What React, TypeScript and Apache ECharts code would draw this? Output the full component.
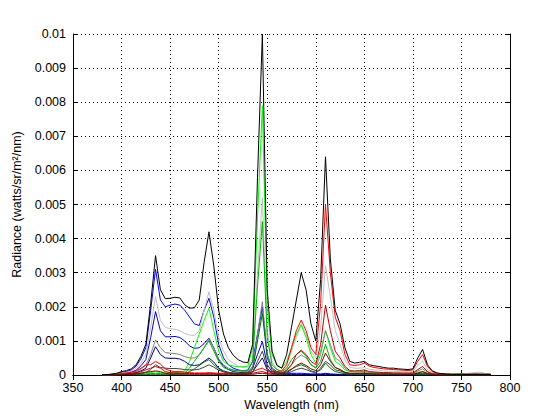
import React, { useEffect, useRef } from "react";
import * as echarts from "echarts";

// Wavelength samples (nm)
const wavelengths = [
  380, 385, 390, 395, 400, 405, 410, 415, 420, 425,
  430, 435, 440, 445, 450, 455, 460, 465, 470, 475,
  480, 485, 490, 495, 500, 505, 510, 515, 520, 525,
  530, 535, 540, 545, 550, 555, 560, 565, 570, 575,
  580, 585, 590, 595, 600, 605, 610, 615, 620, 625,
  630, 635, 640, 645, 650, 655, 660, 665, 670, 675,
  680, 685, 690, 695, 700, 705, 710, 715, 720, 725,
  730, 735, 740, 745, 750, 755, 760, 765, 770, 775,
  780,
];

const white100 = [
  0, 0.00001, 0.00003, 0.00005, 0.0001, 0.00013, 0.00018, 0.0003, 0.00055, 0.0009,
  0.0021, 0.0035, 0.0025, 0.00224, 0.00225, 0.00228, 0.00226, 0.00206, 0.00196, 0.00197,
  0.0022, 0.0033, 0.0042, 0.0032, 0.0019, 0.0012, 0.0008, 0.00058, 0.00045, 0.00038,
  0.00036, 0.0009, 0.0058, 0.01, 0.0025, 0.0007, 0.00028, 0.0002, 0.0006, 0.0014,
  0.0022, 0.003, 0.0025, 0.0015, 0.001, 0.0028, 0.0064, 0.0034, 0.0019, 0.0015,
  0.0008, 0.0004, 0.00035, 0.00037, 0.0004, 0.0003, 0.00027, 0.00025, 0.00022, 0.0002,
  0.0002, 0.00018, 0.00017, 0.00016, 0.00018, 0.0005, 0.00075, 0.0003, 0.00012, 0.00006,
  0.00004, 0.00003, 0.00002, 0.00002, 0.00002, 0.00002, 0.00002, 0.00002, 0.00002, 0.00002,
  0.00002,
];

const whiteHigh = [
  0, 0, 0.00002, 0.00003, 0.00006, 0.00008, 0.00011, 0.0002, 0.00035, 0.0006,
  0.0014, 0.0023, 0.0016, 0.0014, 0.00136, 0.00134, 0.0013, 0.00122, 0.00117, 0.00116,
  0.0013, 0.0019, 0.00244, 0.0019, 0.0011, 0.0007, 0.00045, 0.00035, 0.00026, 0.00022,
  0.00021, 0.0005, 0.003, 0.0052, 0.0013, 0.0004, 0.00016, 0.00012, 0.0003, 0.0007,
  0.0011, 0.0015, 0.0012, 0.0007, 0.0005, 0.0014, 0.0032, 0.0023, 0.0013, 0.0009,
  0.00045, 0.00022, 0.0002, 0.0002, 0.00022, 0.00017, 0.00015, 0.00014, 0.00012, 0.00011,
  0.00011, 0.0001, 0.0001, 0.00009, 0.0001, 0.00028, 0.0004, 0.00016, 0.00007, 0.00004,
  0.00003, 0.00003, 0.00003, 0.00003, 0.00003, 0.00004, 0.00006, 0.00008, 0.00008, 0.00004,
  0.00003,
];

const whiteMid = [
  0, 0, 0.00001, 0.00002, 0.00003, 0.00004, 0.00005, 0.0001, 0.00017, 0.00028,
  0.0006, 0.00103, 0.0008, 0.00066, 0.00064, 0.00063, 0.0006, 0.00054, 0.0005, 0.0005,
  0.00058, 0.0008, 0.00105, 0.0008, 0.00048, 0.0003, 0.0002, 0.00015, 0.00012, 0.0001,
  0.0001, 0.00025, 0.0012, 0.00215, 0.0006, 0.0002, 0.00008, 0.00006, 0.00015, 0.0003,
  0.00048, 0.00059, 0.0005, 0.0003, 0.00022, 0.0006, 0.0013, 0.0009, 0.0005, 0.0004,
  0.0002, 0.0001, 0.00009, 0.00009, 0.0001, 0.00008, 0.00007, 0.00006, 0.00006, 0.00005,
  0.00005, 0.00005, 0.00004, 0.00004, 0.00005, 0.00012, 0.00018, 0.00008, 0.00003, 0.00002,
  0.00002, 0.00002, 0.00002, 0.00002, 0.00002, 0.00002, 0.00003, 0.00004, 0.00003, 0.00002,
  0.00002,
];

const whiteLow = [
  0, 0, 0, 0.00001, 0.00001, 0.00002, 0.00002, 0.00003, 0.00005, 0.00008,
  0.00016, 0.0003, 0.00022, 0.0002, 0.00019, 0.00019, 0.00018, 0.00016, 0.00015, 0.00015,
  0.00017, 0.00023, 0.0003, 0.00023, 0.00014, 0.00009, 0.00006, 0.00004, 0.00003, 0.00003,
  0.00003, 0.00008, 0.0004, 0.0007, 0.0002, 0.00006, 0.00003, 0.00002, 0.00005, 0.0001,
  0.00016, 0.0002, 0.00016, 0.0001, 0.00007, 0.0002, 0.0004, 0.0003, 0.00015, 0.00012,
  0.00006, 0.00003, 0.00003, 0.00003, 0.00003, 0.00002, 0.00002, 0.00002, 0.00002, 0.00002,
  0.00002, 0.00002, 0.00002, 0.00002, 0.00002, 0.00004, 0.00006, 0.00003, 0.00001, 0.00001,
  0.00001, 0.00001, 0.00001, 0.00001, 0.00001, 0.00001, 0.00001, 0.00001, 0.00001, 0.00001,
  0.00001,
];

const blue100 = [
  0, 0, 0.00002, 0.00004, 0.00008, 0.0001, 0.00015, 0.00026, 0.00048, 0.0008,
  0.0019, 0.0031, 0.0022, 0.002, 0.00205, 0.00208, 0.00205, 0.0019, 0.0017, 0.0015,
  0.00145, 0.0019, 0.00225, 0.0017, 0.0009, 0.0005, 0.0003, 0.0002, 0.00015, 0.00012,
  0.00014, 0.0004, 0.0012, 0.002, 0.0006, 0.0002, 0.0001, 0.00006, 0.00005, 0.00005,
  0.00005, 0.00005, 0.00004, 0.00003, 0.00003, 0.00003, 0.00005, 0.00003, 0.00002, 0.00002,
  0.00002, 0.00002, 0.00002, 0.00002, 0.00002, 0.00002, 0.00002, 0.00002, 0.00002, 0.00002,
  0.00001, 0.00001, 0.00001, 0.00001, 0.00001, 0.00001, 0.00001, 0.00001, 0.00001, 0.00001,
  0.00001, 0.00001, 0.00001, 0.00001, 0.00001, 0.00001, 0.00001, 0.00001, 0.00001, 0.00001,
  0.00001,
];

const blueMid = [
  0, 0, 0.00001, 0.00002, 0.00004, 0.00005, 0.00008, 0.00014, 0.00027, 0.00045,
  0.0011, 0.00186, 0.0013, 0.00112, 0.00112, 0.00113, 0.0011, 0.001, 0.00085, 0.00078,
  0.0008, 0.00092, 0.00108, 0.0008, 0.00045, 0.00026, 0.00016, 0.0001, 0.00008, 0.00007,
  0.00008, 0.0002, 0.0006, 0.00098, 0.0003, 0.0001, 0.00005, 0.00003, 0.00003, 0.00003,
  0.00002, 0.00002, 0.00002, 0.00002, 0.00002, 0.00002, 0.00003, 0.00002, 0.00002, 0.00001,
  0.00001, 0.00001, 0.00001, 0.00001, 0.00001, 0.00001, 0.00001, 0.00001, 0.00001, 0.00001,
  0.00001, 0.00001, 0.00001, 0.00001, 0.00001, 0.00001, 0.00001, 0.00001, 0.00001, 0.00001,
  0.00001, 0.00001, 0.00001, 0.00001, 0.00001, 0.00001, 0.00001, 0.00001, 0.00001, 0.00001,
  0.00001,
];

const blueLow = [
  0, 0, 0, 0.00001, 0.00002, 0.00003, 0.00004, 0.00007, 0.00012, 0.0002,
  0.0005, 0.00083, 0.0006, 0.0005, 0.00049, 0.00049, 0.00047, 0.0004, 0.0003, 0.00028,
  0.0003, 0.0004, 0.0005, 0.00038, 0.0002, 0.00012, 0.00008, 0.00005, 0.00004, 0.00003,
  0.00004, 0.0001, 0.0003, 0.0005, 0.00015, 0.00005, 0.00003, 0.00002, 0.00002, 0.00002,
  0.00001, 0.00001, 0.00001, 0.00001, 0.00001, 0.00001, 0.00002, 0.00001, 0.00001, 0.00001,
  0.00001, 0.00001, 0.00001, 0.00001, 0.00001, 0.00001, 0.00001, 0.00001, 0.00001, 0.00001,
  0.00001, 0.00001, 0.00001, 0.00001, 0.00001, 0.00001, 0.00001, 0.00001, 0.00001, 0.00001,
  0, 0, 0, 0, 0, 0, 0, 0, 0, 0,
  0,
];

const green100 = [
  0, 0.00001, 0.00002, 0.00003, 0.00004, 0.00004, 0.00005, 0.00005, 0.00006, 0.00006,
  0.00007, 0.0001, 0.00007, 0.00006, 0.00006, 0.00007, 0.00008, 0.00012, 0.0004, 0.0008,
  0.0012, 0.0016, 0.00196, 0.0013, 0.0007, 0.0004, 0.0003, 0.00026, 0.00024, 0.00024,
  0.00026, 0.0008, 0.0046, 0.0079, 0.002, 0.0006, 0.0003, 0.0002, 0.0004, 0.0008,
  0.0012, 0.00147, 0.0011, 0.0006, 0.00035, 0.0007, 0.0013, 0.0008, 0.0004, 0.0003,
  0.00015, 0.0001, 0.00009, 0.0001, 0.00011, 0.00008, 0.00007, 0.00006, 0.00006, 0.00005,
  0.00005, 0.00005, 0.00004, 0.00004, 0.00005, 0.00008, 0.0001, 0.00006, 0.00003, 0.00002,
  0.00002, 0.00002, 0.00002, 0.00003, 0.00004, 0.00002, 0.00002, 0.00002, 0.00002, 0.00002,
  0.00002,
];

const greenMid = [
  0, 0, 0.00001, 0.00001, 0.00002, 0.00002, 0.00002, 0.00003, 0.00003, 0.00003,
  0.00004, 0.00005, 0.00004, 0.00003, 0.00003, 0.00004, 0.00004, 0.00006, 0.0002, 0.0004,
  0.0006, 0.0008, 0.001, 0.0007, 0.0004, 0.00022, 0.00016, 0.00014, 0.00013, 0.00013,
  0.00014, 0.0004, 0.0026, 0.0045, 0.0011, 0.0003, 0.00016, 0.0001, 0.0002, 0.00045,
  0.0006, 0.0007, 0.00055, 0.0003, 0.0002, 0.0004, 0.0009, 0.00045, 0.00022, 0.00016,
  0.00008, 0.00005, 0.00005, 0.00005, 0.00006, 0.00004, 0.00004, 0.00003, 0.00003, 0.00003,
  0.00003, 0.00003, 0.00002, 0.00002, 0.00003, 0.00004, 0.00005, 0.00003, 0.00002, 0.00001,
  0.00001, 0.00001, 0.00001, 0.00001, 0.00002, 0.00001, 0.00001, 0.00001, 0.00001, 0.00001,
  0.00001,
];

const greenLow = [
  0, 0, 0, 0.00001, 0.00001, 0.00001, 0.00001, 0.00001, 0.00001, 0.00001,
  0.00002, 0.00002, 0.00002, 0.00001, 0.00001, 0.00002, 0.00002, 0.00003, 0.0001, 0.00018,
  0.00028, 0.00038, 0.00045, 0.0003, 0.00018, 0.0001, 0.00007, 0.00006, 0.00005, 0.00005,
  0.00006, 0.00016, 0.001, 0.0018, 0.0005, 0.00015, 0.00007, 0.00005, 0.0001, 0.00018,
  0.00025, 0.0003, 0.00024, 0.00012, 0.00008, 0.00015, 0.00035, 0.0002, 0.0001, 0.00007,
  0.00004, 0.00002, 0.00002, 0.00002, 0.00003, 0.00002, 0.00002, 0.00001, 0.00001, 0.00001,
  0.00001, 0.00001, 0.00001, 0.00001, 0.00001, 0.00002, 0.00002, 0.00001, 0.00001, 0.00001,
  0, 0, 0, 0, 0, 0, 0, 0, 0, 0,
  0,
];

const red100 = [
  0, 0, 0.00001, 0.00002, 0.00004, 0.00006, 0.00008, 0.00012, 0.0002, 0.0003,
  0.0003, 0.0004, 0.00032, 0.00018, 0.00012, 0.0001, 0.0001, 0.00008, 0.00007, 0.00006,
  0.00006, 0.00006, 0.00007, 0.00006, 0.00005, 0.00005, 0.00005, 0.00005, 0.00005, 0.00005,
  0.00006, 0.0001, 0.00016, 0.0002, 0.00012, 0.0001, 0.0001, 0.00012, 0.0003, 0.0008,
  0.0013, 0.00161, 0.0013, 0.0008, 0.0006, 0.0021, 0.005, 0.003, 0.0017, 0.0013,
  0.0006, 0.0003, 0.00028, 0.0003, 0.00035, 0.00026, 0.00022, 0.0002, 0.00018, 0.00017,
  0.00016, 0.00015, 0.00014, 0.00013, 0.00015, 0.0004, 0.0006, 0.00025, 0.0001, 0.00005,
  0.00003, 0.00002, 0.00002, 0.00002, 0.00002, 0.00002, 0.00002, 0.00002, 0.00002, 0.00002,
  0.00002,
];

const redMid = [
  0, 0, 0, 0.00001, 0.00002, 0.00003, 0.00004, 0.00006, 0.0001, 0.00015,
  0.0002, 0.00025, 0.0002, 0.0001, 0.00007, 0.00006, 0.00006, 0.00005, 0.00004, 0.00004,
  0.00004, 0.00004, 0.00004, 0.00004, 0.00003, 0.00003, 0.00003, 0.00003, 0.00003, 0.00003,
  0.00003, 0.00005, 0.00008, 0.0001, 0.00006, 0.00005, 0.00005, 0.00006, 0.00013, 0.0003,
  0.0006, 0.00073, 0.0006, 0.0004, 0.0003, 0.0009, 0.00205, 0.0013, 0.0007, 0.0005,
  0.00025, 0.00013, 0.00012, 0.00013, 0.00015, 0.0001, 0.00009, 0.00008, 0.00007, 0.00007,
  0.00006, 0.00006, 0.00006, 0.00006, 0.00006, 0.00016, 0.00025, 0.0001, 0.00004, 0.00002,
  0.00001, 0.00001, 0.00001, 0.00001, 0.00001, 0.00001, 0.00001, 0.00001, 0.00001, 0.00001,
  0.00001,
];

const redLow = [
  0, 0, 0, 0, 0.00001, 0.00001, 0.00002, 0.00003, 0.00005, 0.00008,
  0.0001, 0.00012, 0.0001, 0.00005, 0.00003, 0.00003, 0.00003, 0.00002, 0.00002, 0.00002,
  0.00002, 0.00002, 0.00002, 0.00002, 0.00002, 0.00002, 0.00002, 0.00002, 0.00002, 0.00002,
  0.00002, 0.00002, 0.00004, 0.00005, 0.00003, 0.00002, 0.00002, 0.00003, 0.00007, 0.00016,
  0.00028, 0.00035, 0.00028, 0.00018, 0.00013, 0.0003, 0.00064, 0.0004, 0.00022, 0.00016,
  0.00008, 0.00005, 0.00004, 0.00005, 0.00005, 0.00004, 0.00003, 0.00003, 0.00003, 0.00003,
  0.00002, 0.00002, 0.00002, 0.00002, 0.00002, 0.00006, 0.0001, 0.00004, 0.00002, 0.00001,
  0, 0, 0, 0, 0, 0, 0, 0, 0, 0,
  0,
];

const seriesNames = [
  "White 100%", "Blue 100%", "White high", "Blue mid", "Green 100%", "White mid",
  "Green mid", "Blue low", "Red 100%", "Red mid", "Green low", "White low", "Red low",
];
const seriesColors = [
  "#000000", "#0000ff", "#c0c0c0", "#0000d0", "#00ff00", "#808080",
  "#00b400", "#000080", "#ff0000", "#c00000", "#007000", "#404040", "#800000",
];
const seriesValues = [
  white100, blue100, whiteHigh, blueMid, green100, whiteMid,
  greenMid, blueLow, red100, redMid, greenLow, whiteLow, redLow,
];

const xTicks = { min: 350, max: 800, interval: 50 };
const yTicks = { min: 0, max: 0.01, interval: 0.001 };

const FONT = "'Liberation Sans', Arial, Helvetica, sans-serif";

export default function App() {
  const ref = useRef<HTMLDivElement>(null);

  useEffect(() => {
    if (!ref.current) return;
    const chart = echarts.init(ref.current, null, { renderer: "svg" });

    const series = seriesValues.map((vals, i) => ({
      name: seriesNames[i],
      type: "line",
      xAxisIndex: 0,
      yAxisIndex: 0,
      data: wavelengths.map((w, j) => [w, vals[j]]),
      showSymbol: false,
      symbol: "none",
      silent: true,
      lineStyle: { color: seriesColors[i], width: 1 },
      itemStyle: { color: seriesColors[i] },
      z: i === 0 ? 3 : 2,
    }));

    const labelStyle = { color: "#000", fontSize: 12.5, fontFamily: FONT };
    const tick = { show: true, inside: true, length: 5, lineStyle: { color: "#000", width: 1 } };
    const line = { show: true, lineStyle: { color: "#000", width: 1 } };
    const dotted = { show: true, lineStyle: { color: "#000", width: 1, type: [1, 3] } };

    chart.setOption({
      animation: false,
      backgroundColor: "#fff",
      grid: { left: 73, right: 50, top: 34, bottom: 45, containLabel: false },
      xAxis: [
        {
          type: "value",
          position: "bottom",
          ...xTicks,
          axisLine: line,
          axisTick: tick,
          axisLabel: { ...labelStyle, margin: 6 },
          splitLine: dotted,
          name: "Wavelength (nm)",
          nameLocation: "middle",
          nameGap: 23,
          nameTextStyle: labelStyle,
        },
        {
          type: "value",
          position: "top",
          ...xTicks,
          axisLine: line,
          axisTick: tick,
          axisLabel: { show: false },
          splitLine: { show: false },
        },
      ],
      yAxis: [
        {
          type: "value",
          position: "left",
          ...yTicks,
          axisLine: line,
          axisTick: tick,
          axisLabel: {
            ...labelStyle,
            margin: 7,
            formatter: (v: number) => String(Math.round(v * 1000) / 1000),
          },
          splitLine: dotted,
          name: "Radiance (watts/sr/m²/nm)",
          nameLocation: "middle",
          nameGap: 44,
          nameRotate: 90,
          nameTextStyle: labelStyle,
        },
        {
          type: "value",
          position: "right",
          ...yTicks,
          axisLine: line,
          axisTick: tick,
          axisLabel: { show: false },
          splitLine: { show: false },
        },
      ],
      series,
    });

    return () => chart.dispose();
  }, []);

  return (
    <div
      ref={ref}
      style={{ position: "fixed", left: 0, top: 0, width: 560, height: 420, background: "#fff" }}
    />
  );
}
